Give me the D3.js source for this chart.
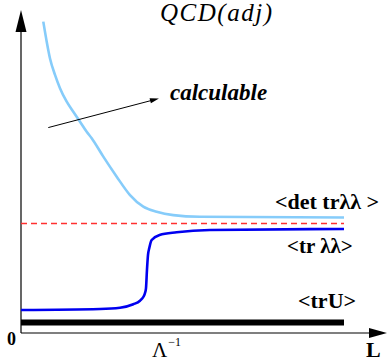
<!DOCTYPE html>
<html>
<head>
<meta charset="utf-8">
<script src="https://cdn.jsdelivr.net/npm/d3@7"></script>
<style>
  body { margin: 0; background: #fff; }
</style>
</head>
<body>
<div id="chart"></div>
<script>
// curves (x = L, y = value, arbitrary units 0..100)
var detX = [6.9, 7.96, 8.98, 10.53, 12.07, 14.15, 16.19, 18.27, 20.34, 21.89, 25.48, 29.63, 33.75, 37.86, 42.0, 47.15, 55.4, 100];
var detY = [96.4, 90.2, 85.0, 79.9, 75.8, 71.6, 68.5, 65.4, 62.3, 60.3, 54.6, 48.4, 42.7, 39.1, 37.55, 36.5, 36.0, 35.76];

var trX = [0, 24.46, 30.65, 34.77, 36.84, 37.86, 38.39, 38.7, 39.0, 39.32, 39.72, 40.46, 42.9, 48.2, 58.5, 100];
var trY = [7.12, 7.43, 7.83, 8.89, 10.0, 11.15, 12.38, 13.93, 19.5, 24.15, 26.3, 28.79, 30.34, 31.18, 31.9, 32.2];

var dashedLevel = 33.9;   // red dashed reference
var truLevel = 3.25;      // <trU>
var lineEnd = 100;

var arrowFrom = [8.45, 63.6];
var arrowTo = [42.7, 72.6];

var width = 387, height = 364;
var svg = d3.select("#chart").append("svg")
    .attr("width", width)
    .attr("height", height)
    .attr("font-family", "'Liberation Serif', 'Times New Roman', 'DejaVu Serif', serif");

var xScale = d3.scaleLinear().domain([0, 100]).range([21, 344]);
var yScale = d3.scaleLinear().domain([0, 100]).range([333, 10]);

var line = d3.line()
    .x(function (d) { return xScale(d[0]); })
    .y(function (d) { return yScale(d[1]); })
    .curve(d3.curveMonotoneX);

// axes: plain lines with arrow heads
svg.append("line")
    .attr("x1", xScale(0)).attr("y1", yScale(0))
    .attr("x2", 370).attr("y2", yScale(0))
    .attr("stroke", "#000").attr("stroke-width", 1.2);
svg.append("path")
    .attr("d", "M369," + (yScale(0) - 5) + "L387," + yScale(0) + "L369," + (yScale(0) + 5) + "Z")
    .attr("fill", "#000");

svg.append("line")
    .attr("x1", xScale(0)).attr("y1", yScale(0))
    .attr("x2", xScale(0)).attr("y2", 30)
    .attr("stroke", "#000").attr("stroke-width", 1.2);
svg.append("path")
    .attr("d", "M" + (xScale(0) - 5.5) + ",32L" + xScale(0) + ",10L" + (xScale(0) + 5.5) + ",32Z")
    .attr("fill", "#000");

// <trU> thick bar
svg.append("line")
    .attr("x1", xScale(0)).attr("x2", xScale(lineEnd))
    .attr("y1", yScale(truLevel)).attr("y2", yScale(truLevel))
    .attr("stroke", "#000").attr("stroke-width", 6);

// dashed red level
svg.append("line")
    .attr("x1", xScale(0)).attr("x2", xScale(lineEnd))
    .attr("y1", yScale(dashedLevel)).attr("y2", yScale(dashedLevel))
    .attr("stroke", "#ff3030").attr("stroke-width", 1.4)
    .attr("stroke-dasharray", "6,4");

// <det tr λλ> light blue curve
svg.append("path")
    .datum(d3.zip(detX, detY))
    .attr("d", line)
    .attr("fill", "none")
    .attr("stroke", "#86ccfa")
    .attr("stroke-width", 2.6);

// <tr λλ> blue curve
svg.append("path")
    .datum(d3.zip(trX, trY))
    .attr("d", line)
    .attr("fill", "none")
    .attr("stroke", "#0000f0")
    .attr("stroke-width", 2.6);

// "calculable" arrow
var ax1 = xScale(arrowFrom[0]), ay1 = yScale(arrowFrom[1]);
var ax2 = xScale(arrowTo[0]), ay2 = yScale(arrowTo[1]);
var ang = Math.atan2(ay2 - ay1, ax2 - ax1);
svg.append("line")
    .attr("x1", ax1).attr("y1", ay1)
    .attr("x2", ax2 - 5 * Math.cos(ang)).attr("y2", ay2 - 5 * Math.sin(ang))
    .attr("stroke", "#000").attr("stroke-width", 1);
var hl = 9, hw = 2.6;
svg.append("path")
    .attr("d", "M" + ax2 + "," + ay2 +
        "L" + (ax2 - hl * Math.cos(ang) + hw * Math.sin(ang)) + "," + (ay2 - hl * Math.sin(ang) - hw * Math.cos(ang)) +
        "L" + (ax2 - hl * Math.cos(ang) - hw * Math.sin(ang)) + "," + (ay2 - hl * Math.sin(ang) + hw * Math.cos(ang)) + "Z")
    .attr("fill", "#000");

// labels
svg.append("text")
    .attr("x", 160).attr("y", 21)
    .attr("font-size", 25).attr("font-style", "italic")
    .attr("textLength", 112).attr("lengthAdjust", "spacing")
    .text("QCD(adj)");

svg.append("text")
    .attr("x", 170).attr("y", 100)
    .attr("font-size", 23).attr("font-style", "italic").attr("font-weight", "bold")
    .text("calculable");

svg.append("text")
    .attr("x", 275).attr("y", 209)
    .attr("font-size", 22).attr("font-weight", "bold")
    .text("<det tr\u03bb\u03bb >");

svg.append("text")
    .attr("x", 287).attr("y", 253)
    .attr("font-size", 21).attr("font-weight", "bold")
    .text("<tr \u03bb\u03bb>");

svg.append("text")
    .attr("x", 298).attr("y", 308)
    .attr("font-size", 22).attr("font-weight", "bold")
    .text("<trU>");

svg.append("text")
    .attr("x", 7).attr("y", 345)
    .attr("font-size", 18).attr("font-weight", "bold")
    .text("0");

svg.append("text")
    .attr("x", 366).attr("y", 357)
    .attr("font-size", 22).attr("font-weight", "bold")
    .text("L");

var lam = svg.append("text")
    .attr("x", 152).attr("y", 357)
    .attr("font-size", 21);
lam.append("tspan").text("\u039b");
lam.append("tspan").attr("font-size", 12).attr("dy", -11).attr("dx", 1).text("\u22121");
</script>
</body>
</html>
